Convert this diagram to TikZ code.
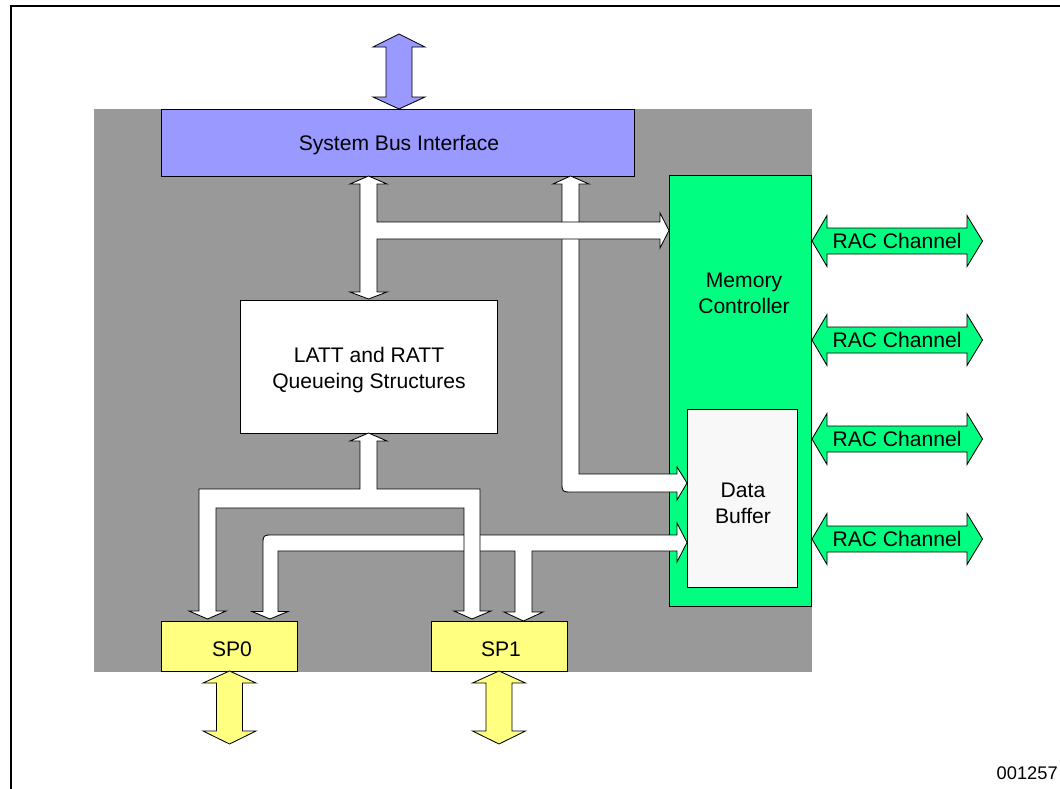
\documentclass[tikz,border=0pt]{standalone}
\usepackage{fontspec}
\setmainfont{Liberation Sans}
\usetikzlibrary{fit}

\definecolor{chipgray}{RGB}{153,153,153}
\definecolor{busblue}{RGB}{153,153,255}
\definecolor{memgreen}{RGB}{0,255,128}
\definecolor{portyellow}{RGB}{255,255,128}
\definecolor{bufwhite}{RGB}{248,248,248}

\begin{document}
\begin{tikzpicture}[x=0.025cm,y=-0.025cm]
\tikzset{block/.style={draw=black,line width=0.6pt,inner sep=0pt}}
\tikzset{sbibox/.style={block,fill=busblue}}
\tikzset{memctl/.style={block,fill=memgreen}}
\tikzset{bufbox/.style={block,fill=bufwhite}}
\tikzset{queuebox/.style={block,fill=white}}
\tikzset{portbox/.style={block,fill=portyellow}}
\tikzset{blocktext/.style={inner sep=0pt,align=center,font=\fontsize{15}{18.5}\selectfont}}
\tikzset{fatarrow/.style={draw=black,line width=0.6pt,fill=white}}
\tikzset{sysarrow/.style={fatarrow,fill=busblue}}
\tikzset{racarrow/.style={fatarrow,fill=memgreen}}
\tikzset{portarrow/.style={fatarrow,fill=portyellow}}

\useasboundingbox (0,0) rectangle (1060,789);
\path[draw=black,line width=1.3pt] (11,6) rectangle (1080,810);

\path[fill=chipgray] (94,109) rectangle (812,672);

\node[sbibox,fit={(161,109) (634,176)}] (sbi) {};
\node[blocktext] (sbitext) at (399,145) {System Bus Interface};
\node[memctl,fit={(669,175) (811,606)}] (mc) {};
\node[blocktext] (mctext) at (744,293) {Memory\\Controller};
\node[bufbox,fit={(687,409) (797,587)}] (db) {};
\node[blocktext] (dbtext) at (743,503) {Data\\Buffer};
\node[queuebox,fit={(240,300) (497,433)}] (latt) {};
\node[blocktext] (latttext) at (369,370.5) {LATT and RATT\\Queueing Structures};
\node[portbox,fit={(161,621) (297,671)}] (sp0) {};
\node[blocktext] (sp0text) at (232,649) {SP0};
\node[portbox,fit={(431,621) (567,671)}] (sp1) {};
\node[blocktext] (sp1text) at (501,649) {SP1};

\path[sysarrow] (399,34) -- (425,47) -- (412,47) -- (412,97) -- (425,97) -- (399,109)
  -- (373,97) -- (386,97) -- (386,47) -- (373,47) -- cycle;

% system bus to data buffer
\path[fatarrow] (570.5,176) -- (589,184) -- (579,184) -- (579,474) -- (677,474) -- (677,467)
  -- (687,483) -- (677,500) -- (677,492) -- (572,492) .. controls (562,492) .. (562,482)
  -- (562,184) -- (553,184) -- cycle;

% system bus to queues and memory controller
\path[fatarrow] (368.5,176) -- (387,184) -- (377,184) -- (377,222) -- (660,222) -- (660,213)
  -- (669,230.5) -- (660,248) -- (660,239) -- (377,239) -- (377,292) -- (387,292)
  -- (368.5,299) -- (350,292) -- (360,292) -- (360,184) -- (350,184) -- cycle;

% data buffer to ports
\path[fatarrow] (687,542.5) -- (677,562) -- (677,551) -- (532,551) -- (532,612) -- (543,612)
  -- (523.5,621) -- (504,612) -- (515,612) -- (515,551) -- (278,551) -- (278,611.5)
  -- (288,611.5) -- (270,619) -- (252,611.5) -- (263,611.5) -- (263,545)
  .. controls (263,535) .. (273,535) -- (677,535) -- (677,523) -- cycle;

% queues to ports
\path[fatarrow] (368.5,433) -- (387,441) -- (377,441) -- (377,489) -- (480,489) -- (480,611)
  -- (491,611) -- (472,619) -- (454,611) -- (464,611) -- (464,508) -- (216,508) -- (216,611)
  -- (226,611) -- (207.5,619) -- (189,611) -- (199,611) -- (199,489) -- (360,489)
  -- (360,441) -- (350,441) -- cycle;

\foreach \x in {229.5,499} {
  \path[portarrow] (\x,671) -- ++(26.5,12) -- ++(-13.5,0) -- ++(0,48) -- ++(13.5,0) -- ++(-26.5,13)
    -- ++(-26.5,-13) -- ++(13.5,0) -- ++(0,-48) -- ++(-13.5,0) -- cycle;
}

\foreach \y/\n in {241/1,340/2,439/3,539/4} {
  \path[racarrow] (812,\y) -- ++(15,-25.5) -- ++(0,12.5) -- ++(140,0) -- ++(0,-12.5) -- ++(15.5,25.5)
    -- ++(-15.5,25.5) -- ++(0,-12.5) -- ++(-140,0) -- ++(0,12.5) -- cycle;
  \node[blocktext] (rac\n) at (897,\y) {RAC Channel};
}

\node[anchor=east,inner sep=0pt,font=\fontsize{13}{15}\selectfont] (figno) at (1058,773) {001257};
\end{tikzpicture}
\end{document}
